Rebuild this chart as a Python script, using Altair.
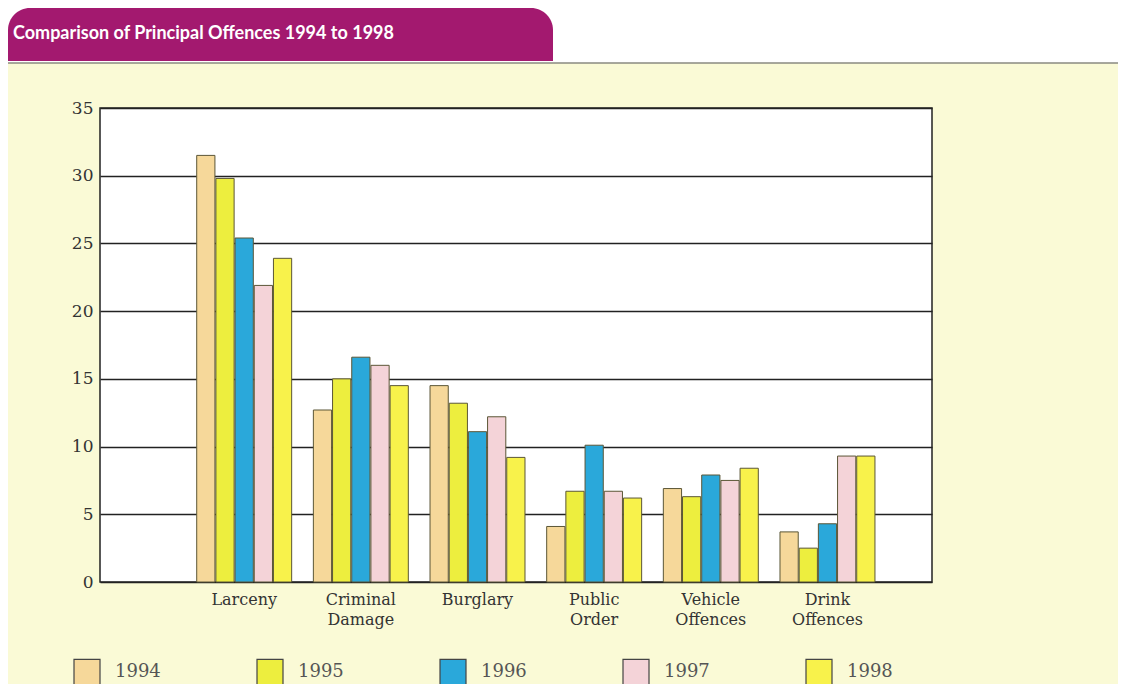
import altair as alt
import pandas as pd

categories = ["Larceny", "Criminal\nDamage", "Burglary", "Public\nOrder",
              "Vehicle\nOffences", "Drink\nOffences"]
years = ["1994", "1995", "1996", "1997", "1998"]
v1994 = [31.5, 12.7, 14.5, 4.1, 6.9, 3.7]
v1995 = [29.8, 15.0, 13.2, 6.7, 6.3, 2.5]
v1996 = [25.4, 16.6, 11.1, 10.1, 7.9, 4.3]
v1997 = [21.9, 16.0, 12.2, 6.7, 7.5, 9.3]
v1998 = [23.9, 14.5, 9.2, 6.2, 8.4, 9.3]
year_colors = ["#F6D89A", "#EDEE3E", "#2AA8DA", "#F4D3D8", "#F8F24B"]
y_ticks = [0, 5, 10, 15, 20, 25, 30, 35]
title_text = "Comparison of Principal Offences 1994 to 1998"

series = [v1994, v1995, v1996, v1997, v1998]
rows = []
for yr, vals in zip(years, series):
    for cat, v in zip(categories, vals):
        rows.append({"category": cat, "year": yr, "value": v})
df = pd.DataFrame(rows)

W, H = 832, 474
PAD = {"left": 92, "top": 100, "right": 186, "bottom": 102}
one = alt.Data(values=[{}])

# decorative page elements
top_white = alt.Chart(one).mark_rect(color="white").encode(
    x=alt.value(-92), x2=alt.value(1018), y=alt.value(-100), y2=alt.value(-45))
top_line = alt.Chart(one).mark_rule(color="#8a8a80", strokeWidth=1.5).encode(
    x=alt.value(-92), x2=alt.value(1018), y=alt.value(-45))
banner = alt.Chart(one).mark_rect(
    color="#A3196F", cornerRadiusTopLeft=22, cornerRadiusTopRight=22).encode(
    x=alt.value(-92), x2=alt.value(453), y=alt.value(-100), y2=alt.value(-47))
banner_text = alt.Chart(one).mark_text(
    align="left", baseline="middle", font="Lato", fontSize=18,
    fontWeight="bold", color="white").encode(
    x=alt.value(-87), y=alt.value(-74), text=alt.value(title_text))

bars = alt.Chart(df).mark_bar(stroke="#5b5636", strokeWidth=1).encode(
    x=alt.X("category:N", sort=categories, title=None,
            scale=alt.Scale(paddingInner=0.186, paddingOuter=0.659, align=0.629),
            axis=alt.Axis(labelAngle=0, labelExpr="split(datum.label, '\\n')",
                          labelFont="DejaVu Serif", labelFontSize=16,
                          labelColor="#333", labelPadding=9, labelLineHeight=20,
                          tickSize=0, domain=False, grid=False)),
    xOffset=alt.XOffset("year:N", sort=years, scale=alt.Scale(paddingInner=0.05)),
    y=alt.Y("value:Q", title=None,
            scale=alt.Scale(domain=[0, 35], nice=False),
            axis=alt.Axis(values=y_ticks, labelFont="DejaVu Serif", labelFontSize=17,
                          labelColor="#333", labelPadding=7, tickSize=0,
                          domain=False, grid=True, gridColor="#222",
                          gridWidth=1.5)),
    color=alt.Color("year:N", sort=years,
                    scale=alt.Scale(domain=years, range=year_colors),
                    legend=alt.Legend(title=None, orient="none", direction="horizontal",
                                      legendX=-27, legendY=550, padding=0,
                                      symbolType="square", symbolSize=676,
                                      symbolStrokeColor="#444", symbolStrokeWidth=1.2,
                                      symbolOpacity=1,
                                      labelFont="DejaVu Serif", labelFontSize=18,
                                      labelColor="#555", labelOffset=14,
                                      columnPadding=93)),
)

chart = alt.layer(top_white, top_line, banner, banner_text, bars).properties(
    width=W, height=H, padding=PAD,
    autosize=alt.AutoSizeParams(type="none"),
).configure(background="#FAFAD6").configure_view(
    fill="white", stroke="#222", strokeWidth=1.5)

chart.save("out.html", embed_options={"renderer": "svg", "actions": False})
